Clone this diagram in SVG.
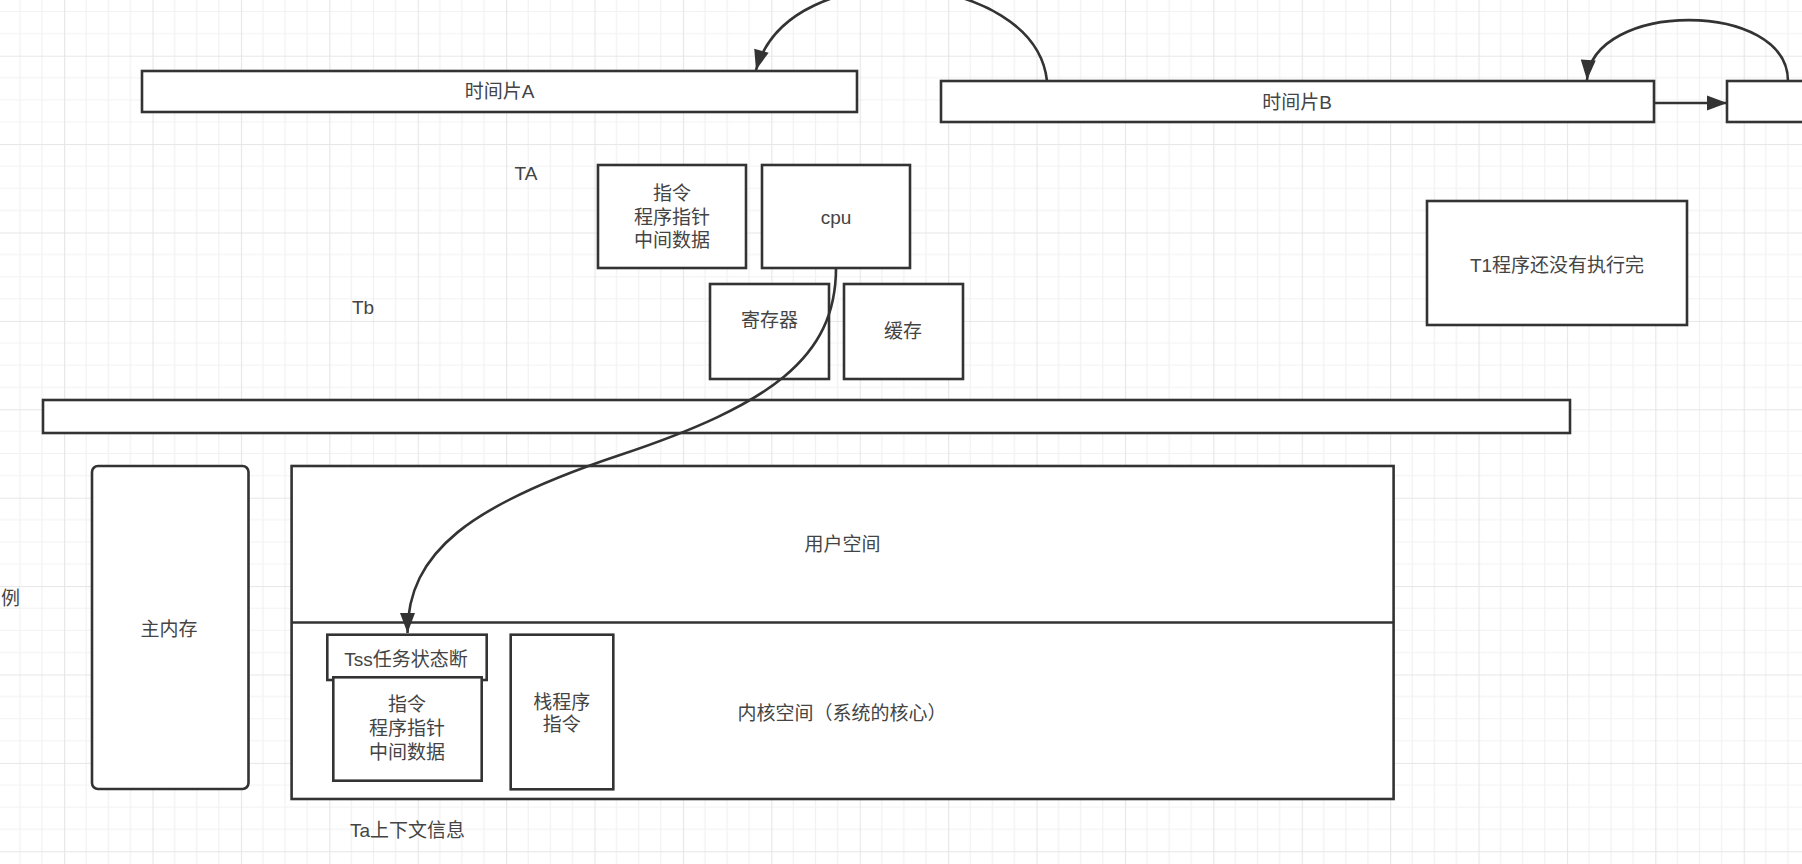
<svg xmlns="http://www.w3.org/2000/svg" width="1802" height="864" viewBox="0 0 1802 864">
  <style>
    .box { fill: #ffffff; stroke: #333333; stroke-width: 2.6; }
    .line { fill: none; stroke: #333333; stroke-width: 2.6; }
    .conn { fill: none; stroke: #333333; stroke-width: 2.6; marker-end: url(#arrow); }
    .t { font-family: "Liberation Sans", "Noto Sans CJK SC", sans-serif; font-size: 19px; fill: #444444; text-anchor: middle; }
  </style>
  <defs>
    <pattern id="grid" patternUnits="userSpaceOnUse" x="64.1" y="55.7" width="88.4" height="88.4">
      <rect width="88.4" height="88.4" fill="#ffffff"/>
      <path d="M22.1,0V88.4M44.2,0V88.4M66.3,0V88.4M0,22.1H88.4M0,44.2H88.4M0,66.3H88.4" stroke="#f2f2f2" stroke-width="1.2" fill="none"/>
      <path d="M0.5,0V88.4M0,0.5H88.4" stroke="#e6e6e6" stroke-width="1.2" fill="none"/>
    </pattern>
    <marker id="arrow" markerUnits="userSpaceOnUse" markerWidth="22" markerHeight="16" refX="20" refY="7.5" orient="auto" overflow="visible">
      <path d="M0,0 L20,7.5 L0,15 Z" fill="#333333"/>
    </marker>
  </defs>

  <rect width="1802" height="864" fill="url(#grid)"/>

  <g id="slice-a">
    <rect class="box" x="142" y="71" width="715" height="41"/>
    <text class="t" x="499.5" y="98">时间片A</text>
  </g>
  <g id="slice-b">
    <rect class="box" x="941" y="81" width="713" height="41"/>
    <text class="t" x="1297" y="109">时间片B</text>
  </g>
  <g id="slice-c">
    <rect class="box" x="1727" y="81" width="120" height="41"/>
  </g>

  <g id="label-ta">
    <text class="t" x="526" y="180">TA</text>
  </g>
  <g id="label-tb">
    <text class="t" x="363" y="314">Tb</text>
  </g>

  <g id="ctx-top">
    <rect class="box" x="598" y="165" width="148" height="103"/>
    <text class="t" x="672" y="200">指令<tspan x="672" dy="23.7">程序指针</tspan><tspan x="672" dy="23.7">中间数据</tspan></text>
  </g>
  <g id="cpu">
    <rect class="box" x="762" y="165" width="148" height="103"/>
    <text class="t" x="836" y="224">cpu</text>
  </g>
  <g id="register">
    <rect class="box" x="710" y="284" width="119" height="95"/>
    <text class="t" x="769.5" y="327">寄存器</text>
  </g>
  <g id="cache">
    <rect class="box" x="844" y="284" width="119" height="95"/>
    <text class="t" x="903" y="338">缓存</text>
  </g>

  <g id="t1">
    <rect class="box" x="1427" y="201" width="260" height="124"/>
    <text class="t" x="1557" y="272">T1程序还没有执行完</text>
  </g>

  <g id="bus">
    <rect class="box" x="43" y="400" width="1527" height="33"/>
  </g>

  <g id="main-memory">
    <rect class="box" x="92" y="466" width="156.5" height="323" rx="6" ry="6"/>
    <text class="t" x="169" y="636">主内存</text>
  </g>

  <g id="label-li">
    <text class="t" x="20" y="605" style="text-anchor:end">例</text>
  </g>

  <g id="memory-space">
    <rect class="box" x="291.6" y="466" width="1102" height="333"/>
    <line class="line" x1="291.6" y1="622.5" x2="1393.6" y2="622.5"/>
    <text class="t" x="842.6" y="551">用户空间</text>
    <text class="t" x="842" y="720">内核空间（系统的核心）</text>
  </g>

  <g id="tss">
    <rect class="box" x="327.3" y="634.7" width="159.4" height="45.3"/>
    <text class="t" x="406" y="666">Tss任务状态断</text>
  </g>
  <g id="ctx-kernel">
    <rect class="box" x="333.3" y="677.3" width="148.4" height="103.4"/>
    <text class="t" x="407" y="711">指令<tspan x="407" dy="24">程序指针</tspan><tspan x="407" dy="24">中间数据</tspan></text>
  </g>
  <g id="stack">
    <rect class="box" x="510.7" y="634.7" width="102.6" height="154.6"/>
    <text class="t" x="561.7" y="708.5">栈程序<tspan x="561.7" dy="22">指令</tspan></text>
  </g>

  <g id="label-ta-ctx">
    <text class="t" x="407.5" y="837">Ta上下文信息</text>
  </g>

  <g id="connectors">
    <path class="conn" d="M1047,81 C1035,-30 790,-50 756,70"/>
    <path class="conn" d="M1788,81 C1788,0 1592,0 1587,80"/>
    <path class="conn" d="M1654,103 L1727,103"/>
    <path class="conn" d="M836,268 C836,358 770,405 620,455 C470,505 407.5,552 407.5,633"/>
  </g>
</svg>
